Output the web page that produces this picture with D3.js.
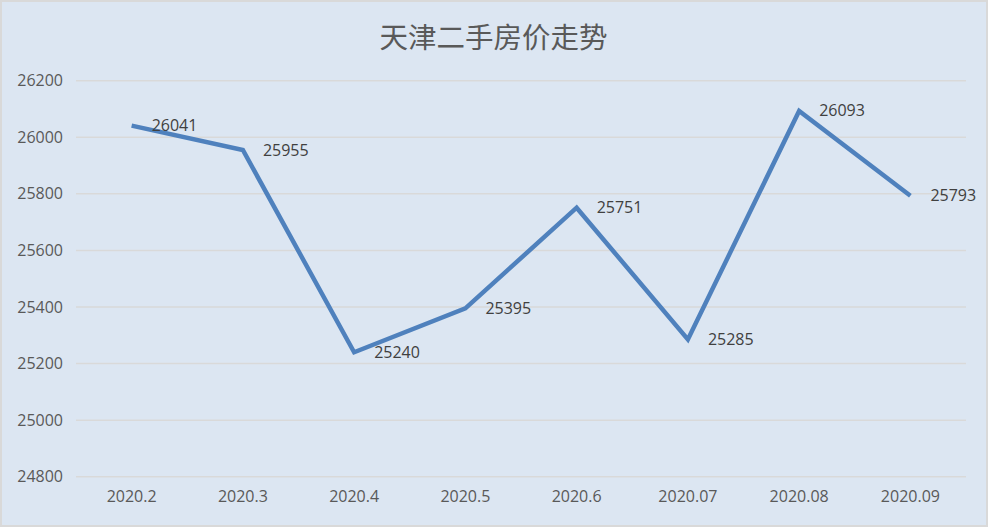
<!DOCTYPE html>
<html>
<head>
<meta charset="utf-8">
<script src="https://cdn.jsdelivr.net/npm/d3@7"></script>
<style>
  html, body { margin: 0; padding: 0; background: #ffffff; }
  svg { display: block; }
</style>
</head>
<body>
<div id="chart"></div>
<script>
// chart data
var months = ["2020.2", "2020.3", "2020.4", "2020.5", "2020.6", "2020.07", "2020.08", "2020.09"];
var prices = [26041, 25955, 25240, 25395, 25751, 25285, 26093, 25793];
var yTicks = [24800, 25000, 25200, 25400, 25600, 25800, 26000, 26200];
var title = "天津二手房价走势";

var W = 990, H = 528;
var plotLeft = 76, plotRight = 966, plotTop = 80.7, plotBottom = 476.7;

var svg = d3.select("#chart").append("svg")
    .attr("width", W)
    .attr("height", H);

// panel background and border
svg.append("rect")
    .attr("x", 1).attr("y", 1)
    .attr("width", 986).attr("height", 525)
    .attr("fill", "#dce6f2")
    .attr("stroke", "#d9d9d9")
    .attr("stroke-width", 2);

var x = d3.scaleBand().domain(months).range([plotLeft, plotRight]);
var y = d3.scaleLinear().domain([24800, 26200]).range([plotBottom, plotTop]);

// gridlines
svg.append("g")
    .selectAll("line")
    .data(yTicks)
    .enter().append("line")
    .attr("x1", plotLeft).attr("x2", plotRight)
    .attr("y1", function(d){ return y(d); })
    .attr("y2", function(d){ return y(d); })
    .attr("stroke", "#d9d9d9")
    .attr("stroke-width", 1.5);

// y axis labels
var yAxis = d3.axisLeft(y).tickValues(yTicks).tickSize(0).tickPadding(13).tickFormat(d3.format("d"));
var gy = svg.append("g").attr("transform", "translate(" + plotLeft + ",0)").call(yAxis);
gy.select(".domain").remove();
gy.selectAll("text")
    .attr("fill", "#595959")
    .style("font-family", "'Open Sans', 'Noto Sans', sans-serif")
    .style("font-size", "16px");

// x axis labels
var xAxis = d3.axisBottom(x).tickSize(0).tickPadding(14);
var gx = svg.append("g").attr("transform", "translate(0," + plotBottom + ")").call(xAxis);
gx.select(".domain").remove();
gx.selectAll("text")
    .attr("fill", "#595959")
    .style("font-family", "'Open Sans', 'Noto Sans', sans-serif")
    .style("font-size", "16px");

// title
svg.append("text")
    .attr("x", 493.5)
    .attr("y", 35)
    .attr("text-anchor", "middle")
    .attr("dominant-baseline", "central")
    .attr("fill", "#595959")
    .style("font-family", "'Noto Sans CJK SC', sans-serif")
    .style("font-size", "28.5px")
    .text(title);

// the line
var line = d3.line()
    .x(function(d, i){ return x(months[i]) + x.bandwidth() / 2; })
    .y(function(d){ return y(d); });

svg.append("path")
    .datum(prices)
    .attr("d", line)
    .attr("fill", "none")
    .attr("stroke", "#4f81bd")
    .attr("stroke-width", 4.5)
    .attr("stroke-linejoin", "miter");

// data labels
svg.append("g")
    .selectAll("text")
    .data(prices)
    .enter().append("text")
    .attr("x", function(d, i){ return x(months[i]) + x.bandwidth() / 2 + 20; })
    .attr("y", function(d){ return y(d) - 0.5; })
    .attr("dominant-baseline", "central")
    .attr("fill", "#404040")
    .style("font-family", "'Open Sans', 'Noto Sans', sans-serif")
    .style("font-size", "16px")
    .text(function(d){ return d; });
</script>
</body>
</html>
